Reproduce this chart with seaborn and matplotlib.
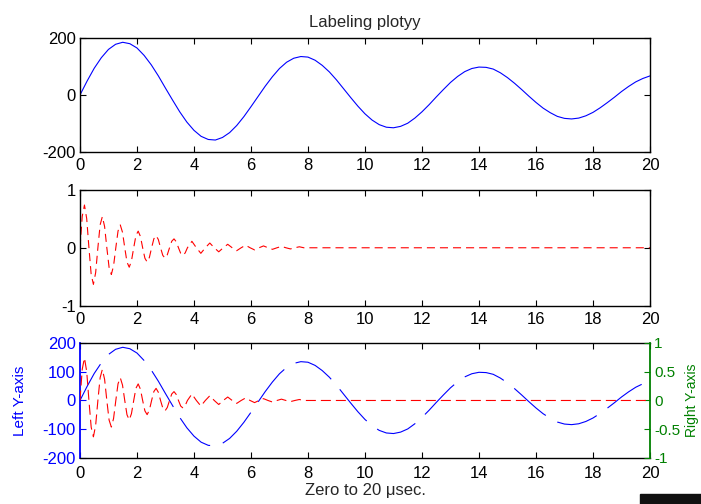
import numpy as np
import matplotlib
matplotlib.use('Agg')
import matplotlib.pyplot as plt
from matplotlib.patches import Rectangle
import seaborn as sns

# valeurs
x1 = np.linspace(0, 20, 81)
y1 = [0, 49, 94, 131, 160, 178, 185, 180, 165, 139, 106, 67, 24, -18, -59, -95,
      -124, -145, -156, -158, -149, -132, -107, -76, -41, -5, 31, 64, 93, 115, 129,
      135, 133, 122, 104, 81, 53, 22, -9, -39, -66, -88, -104, -113, -115, -110,
      -99, -81, -59, -34, -7, 19, 44, 65, 82, 93, 98, 97, 91, 78, 61, 41, 19, -4,
      -26, -46, -62, -75, -82, -84, -81, -73, -61, -45, -27, -8, 12, 30, 46, 58, 67]

x2 = [0, 0.079, 0.157, 0.236, 0.314, 0.393, 0.471, 0.550, 0.628, 0.707, 0.785,
      0.864, 0.942, 1.021, 1.100, 1.178, 1.257, 1.335, 1.414, 1.492, 1.571, 1.649,
      1.728, 1.806, 1.885, 1.963, 2.042, 2.121, 2.199, 2.278, 2.356, 2.435, 2.513,
      2.592, 2.670, 2.749, 2.827, 2.906, 2.985, 3.063, 3.142, 3.220, 3.299, 3.377,
      3.456, 3.534, 3.613, 3.691, 3.770, 3.927, 4.084, 4.241, 4.398, 4.555, 4.712,
      4.869, 5.027, 5.184, 5.341, 5.498, 5.655, 5.812, 5.969, 6.126, 6.283, 6.440,
      6.597, 6.754, 6.912, 7.069, 7.226, 7.383, 7.540, 7.697, 7.854, 20.0]
y2 = [0, 0.544, 0.740, 0.503, 0, -0.465, -0.632, -0.430, 0, 0.397, 0.540, 0.367,
      0, -0.340, -0.462, -0.314, 0, 0.290, 0.395, 0.268, 0, -0.248, -0.337, -0.229,
      0, 0.212, 0.288, 0.196, 0, -0.181, -0.246, -0.167, 0, 0.155, 0.211, 0.143,
      0, -0.132, -0.180, -0.122, 0, 0.113, 0.154, 0.105, 0, -0.097, -0.131, -0.089,
      0, 0.112, 0, -0.096, 0, 0.082, 0, -0.070, 0, 0.060, 0, -0.051, 0, 0.044, 0,
      -0.037, 0, 0.032, 0, -0.027, 0, 0.023, 0, -0.020, 0, 0.017, 0, 0]

xticks = list(range(0, 21, 2))
bleu = '#0000ff'
rouge = '#ff0000'
vert = '#008000'

sns.set_theme(style='white')
plt.rcParams['font.family'] = ['Liberation Sans', 'DejaVu Sans']
plt.rcParams['axes.unicode_minus'] = False
plt.rcParams['lines.scale_dashes'] = False
fs = 12

fig = plt.figure(figsize=(7.01, 5.04), dpi=100)
ax1 = fig.add_axes([0.1141, 0.6984, 0.8131, 0.2262])
ax2 = fig.add_axes([0.1141, 0.3938, 0.8131, 0.2292])
ax3 = fig.add_axes([0.1141, 0.0913, 0.8131, 0.2282])


def cadre(ax, droite=True, pad_x=4.5):
    for s in ax.spines.values():
        s.set_color('black')
        s.set_linewidth(1.0)
    ax.tick_params(direction='in', length=4, width=0.8, top=True, bottom=True,
                   left=True, right=droite, labelsize=fs, colors='black', pad=3)
    ax.tick_params(axis='x', pad=pad_x)
    ax.set_xlim(0, 20)
    ax.set_xticks(xticks)


# graphique du haut
sns.lineplot(x=x1, y=y1, ax=ax1, color=bleu, linewidth=0.8)
cadre(ax1)
ax1.set_ylim(-200, 200)
ax1.set_yticks([-200, 0, 200])
ax1.set_title('Labeling plotyy', fontsize=fs, pad=8)

# graphique du milieu
sns.lineplot(x=x2, y=y2, ax=ax2, color=rouge, linewidth=0.8)
ax2.lines[-1].set_dashes((5.8, 3.6))
cadre(ax2)
ax2.set_ylim(-1, 1)
ax2.set_yticks([-1, 0, 1])

# graphique du bas avec deux axes
sns.lineplot(x=x1, y=y1, ax=ax3, color=bleu, linewidth=0.8)
ax3.lines[-1].set_dashes((30, 9.5))
cadre(ax3, droite=False, pad_x=6)
ax3.set_ylim(-200, 200)
ax3.set_yticks([-200, -100, 0, 100, 200])
ax3.tick_params(axis='y', colors=bleu)
ax3.spines['left'].set_color(bleu)
ax3.spines['left'].set_linewidth(1.3)
ax3.spines['right'].set_visible(False)
ax3.set_ylabel('Left Y-axis', color=bleu, fontsize=11)
ax3.yaxis.set_label_coords(-0.093, 0.5)
ax3.set_xlabel('Zero to 20 \u03bcsec.', fontsize=fs, labelpad=1.5)

ax4 = ax3.twinx()
sns.lineplot(x=x2, y=y2, ax=ax4, color=rouge, linewidth=0.8)
ax4.lines[-1].set_dashes((7.2, 3.6))
ax4.set_ylim(-1, 1)
ax4.set_yticks([-1, -0.5, 0, 0.5, 1])
ax4.set_yticklabels(['-1', '-0.5', '0', '0.5', '1'])
ax4.tick_params(axis='y', direction='in', length=4, width=0.8, right=True,
                colors=vert, labelsize=11, pad=3)
ax4.tick_params(axis='x', bottom=False, top=False, labelbottom=False)
for nom in ['left', 'top', 'bottom']:
    ax4.spines[nom].set_visible(False)
ax4.spines['right'].set_color(vert)
ax4.spines['right'].set_linewidth(1.3)
ax4.set_ylabel('Right Y-axis', color=vert, fontsize=10)
ax4.yaxis.set_label_coords(1.0614, 0.5)

# bout de logo coupé en bas à droite
fig.add_artist(Rectangle((640 / 701, 0), 61 / 701, 10 / 504,
                         transform=fig.transFigure, color='#111111'))

fig.savefig('out.png', dpi=100)
